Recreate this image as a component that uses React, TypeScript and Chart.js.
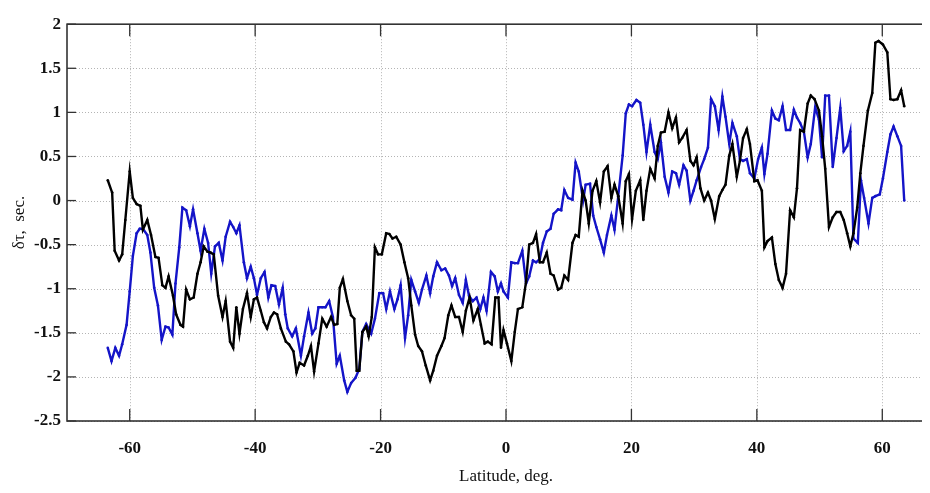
import React, { useEffect, useRef } from "react";
import { Chart, registerables } from "chart.js";

Chart.register(...registerables);

const xTicks = [-60, -40, -20, 0, 20, 40, 60];
const yTicks = [-2.5, -2, -1.5, -1, -0.5, 0, 0.5, 1, 1.5, 2];

const blackLat = [
  -63.5, -62.8, -62.4, -61.7, -61.2, -60.7, -60.0, -59.5, -58.9, -58.3, -57.9, -57.2, -56.6, -55.9, -55.4,
  -54.8, -54.3, -53.8, -53.1, -52.6, -51.9, -51.5, -51.0, -50.4, -49.8, -49.2, -48.7, -48.2, -47.6, -47.1,
  -46.6, -45.9, -45.2, -44.7, -44.0, -43.5, -43.0, -42.5, -41.95, -41.3, -40.7, -40.2, -39.7, -39.1, -38.6,
  -38.1, -37.5, -37.0, -36.5, -35.9, -35.1, -34.6, -33.9, -33.4, -32.9, -32.2, -31.6, -31.1, -30.6, -29.9,
  -29.3, -28.6, -27.9, -27.4, -26.9, -26.5, -26.0, -25.3, -24.7, -24.2, -23.8, -23.4, -22.9, -22.3, -21.9,
  -21.4, -20.9, -20.4, -19.8, -19.1, -18.6, -18.1, -17.5, -16.8, -16.2, -15.6, -15.1, -14.5, -14.0, -13.4,
  -12.8, -12.1, -11.6, -11.0, -10.3, -9.8, -9.2, -8.7, -8.1, -7.5, -6.9, -6.4, -5.8, -5.2, -4.5,
  -4.0, -3.4, -2.9, -2.3, -1.7, -1.2, -0.8, -0.4, 0.15, 0.85, 1.4, 1.9, 2.6, 3.2, 3.7,
  4.3, 4.8, 5.4, 5.9, 6.5, 7.1, 7.6, 8.3, 8.8, 9.3, 9.9, 10.6, 11.1, 11.6, 12.2,
  12.7, 13.2, 13.8, 14.4, 15.0, 15.6, 16.2, 16.8, 17.3, 17.9, 18.6, 19.1, 19.6, 20.1, 20.7,
  21.4, 21.9, 22.4, 23.0, 23.7, 24.2, 24.7, 25.3, 25.9, 26.5, 27.1, 27.6, 28.1, 28.8, 29.4,
  29.9, 30.4, 31.0, 31.6, 32.2, 32.7, 33.3, 34.0, 34.5, 35.0, 35.6, 36.1, 36.8, 37.3, 37.8,
  38.4, 38.9, 39.6, 40.1, 40.8, 41.2, 41.7, 42.4, 42.95, 43.5, 44.1, 44.65, 45.3, 45.9, 46.4,
  46.9, 47.5, 48.1, 48.6, 49.2, 49.9, 50.4, 50.9, 51.5, 52.1, 52.7, 53.3, 53.85, 54.4, 54.9,
  55.4, 56.0, 56.5, 57.0, 57.7, 58.4, 58.9, 59.4, 60.1, 60.8, 61.3, 61.8, 62.4, 63.0, 63.5,
];
const blackDelta = [
  0.23, 0.09, -0.57, -0.68, -0.61, -0.22, 0.33, 0.03, -0.04, -0.06, -0.33, -0.22, -0.39, -0.64, -0.65,
  -0.96, -0.99, -0.86, -1.08, -1.29, -1.41, -1.43, -1.01, -1.12, -1.10, -0.83, -0.70, -0.52, -0.58, -0.59,
  -0.61, -1.08, -1.32, -1.14, -1.60, -1.67, -1.21, -1.51, -1.23, -1.05, -1.32, -1.12, -1.10, -1.25, -1.38,
  -1.45, -1.32, -1.27, -1.29, -1.45, -1.60, -1.63, -1.71, -1.95, -1.84, -1.87, -1.76, -1.65, -1.94, -1.62,
  -1.34, -1.43, -1.32, -1.41, -1.40, -0.99, -0.89, -1.14, -1.30, -1.34, -1.93, -1.93, -1.49, -1.43, -1.54,
  -1.32, -0.53, -0.61, -0.61, -0.37, -0.38, -0.43, -0.41, -0.50, -0.70, -0.88, -1.19, -1.52, -1.65, -1.71,
  -1.87, -2.04, -1.93, -1.76, -1.65, -1.56, -1.30, -1.19, -1.32, -1.32, -1.49, -1.25, -1.10, -1.36, -1.23,
  -1.41, -1.62, -1.60, -1.63, -1.10, -1.10, -1.67, -1.47, -1.62, -1.82, -1.49, -1.23, -1.21, -0.92, -0.50,
  -0.48, -0.38, -0.70, -0.70, -0.59, -0.83, -0.85, -1.01, -0.99, -0.85, -0.90, -0.48, -0.39, -0.41, 0.11,
  0.00, -0.26, 0.11, 0.22, -0.02, 0.33, 0.39, 0.03, 0.18, 0.05, -0.26, 0.22, 0.30, -0.21, 0.11,
  0.23, -0.22, 0.11, 0.36, 0.25, 0.62, 0.77, 0.78, 1.00, 0.82, 0.94, 0.66, 0.71, 0.80, 0.45,
  0.40, 0.49, 0.14, 0.00, 0.09, 0.00, -0.21, 0.05, 0.12, 0.18, 0.51, 0.64, 0.27, 0.45, 0.71,
  0.81, 0.64, 0.22, 0.23, 0.11, -0.53, -0.46, -0.42, -0.72, -0.90, -0.99, -0.83, -0.11, -0.19, 0.14,
  0.80, 0.78, 1.10, 1.19, 1.15, 1.02, 0.73, 0.36, -0.30, -0.19, -0.13, -0.13, -0.22, -0.37, -0.52,
  -0.37, -0.08, 0.31, 0.62, 1.02, 1.22, 1.79, 1.81, 1.77, 1.68, 1.15, 1.14, 1.15, 1.25, 1.07,
];

const blueLat = [
  -63.5, -62.9, -62.3, -61.7, -61.2, -60.5, -60.0, -59.5, -58.9, -58.4, -57.9, -57.2, -56.7, -56.1, -55.5,
  -54.9, -54.3, -53.8, -53.2, -52.7, -52.1, -51.6, -51.0, -50.4, -49.9, -49.2, -48.7, -48.1, -47.5, -47.0,
  -46.4, -45.8, -45.2, -44.7, -44.0, -43.5, -43.0, -42.5, -41.8, -41.3, -40.7, -40.2, -39.7, -39.1, -38.5,
  -37.9, -37.4, -36.8, -36.2, -35.6, -35.2, -34.8, -34.1, -33.5, -32.7, -32.2, -31.5, -30.9, -30.4, -29.9,
  -29.3, -28.8, -28.2, -27.6, -27.0, -26.5, -25.8, -25.3, -24.7, -24.0, -23.4, -22.9, -22.3, -21.5, -20.9,
  -20.2, -19.6, -19.1, -18.5, -17.8, -17.3, -16.8, -16.1, -15.6, -15.1, -14.5, -13.9, -13.4, -12.7, -12.1,
  -11.6, -11.0, -10.3, -9.7, -9.1, -8.6, -8.1, -7.5, -6.9, -6.4, -5.9, -5.3, -4.7, -4.1, -3.6,
  -3.1, -2.4, -1.8, -1.3, -0.8, -0.4, 0.3, 0.85, 1.4, 1.9, 2.6, 3.2, 3.7, 4.3, 4.8,
  5.4, 5.9, 6.5, 7.1, 7.6, 8.3, 8.8, 9.3, 9.9, 10.6, 11.1, 11.6, 12.3, 12.7, 13.4,
  13.9, 14.4, 15.0, 15.6, 16.1, 16.8, 17.3, 17.9, 18.6, 19.1, 19.6, 20.1, 20.8, 21.4, 21.9,
  22.4, 23.0, 23.7, 24.2, 24.7, 25.3, 25.9, 26.5, 27.1, 27.6, 28.3, 28.8, 29.4, 29.9, 30.4,
  31.1, 31.6, 32.2, 32.7, 33.3, 33.9, 34.5, 35.0, 35.6, 36.1, 36.8, 37.3, 37.8, 38.4, 38.9,
  39.6, 40.2, 40.8, 41.2, 41.7, 42.4, 42.95, 43.5, 44.1, 44.65, 45.3, 45.9, 46.4, 46.9, 47.5,
  48.1, 48.6, 49.3, 49.9, 50.4, 50.9, 51.5, 52.1, 52.7, 53.3, 53.85, 54.4, 54.9, 55.4, 56.1,
  56.6, 57.1, 57.8, 58.4, 58.9, 59.6, 60.1, 60.8, 61.3, 61.8, 62.4, 63.0, 63.5,
];
const blueDelta = [
  -1.67, -1.82, -1.67, -1.76, -1.63, -1.41, -1.03, -0.63, -0.37, -0.32, -0.32, -0.39, -0.59, -0.99, -1.19,
  -1.58, -1.43, -1.44, -1.52, -0.94, -0.53, -0.08, -0.11, -0.29, -0.10, -0.37, -0.57, -0.32, -0.48, -0.83,
  -0.52, -0.48, -0.68, -0.41, -0.24, -0.30, -0.37, -0.28, -0.70, -0.88, -0.75, -0.88, -1.07, -0.88, -0.81,
  -1.10, -0.96, -0.97, -1.18, -0.99, -1.29, -1.45, -1.54, -1.45, -1.76, -1.54, -1.27, -1.51, -1.45, -1.21,
  -1.21, -1.21, -1.14, -1.32, -1.85, -1.76, -2.04, -2.17, -2.07, -2.01, -1.91, -1.49, -1.40, -1.51, -1.34,
  -1.05, -1.05, -1.23, -1.03, -1.23, -1.12, -0.96, -1.56, -1.30, -0.90, -1.03, -1.16, -1.01, -0.85, -1.05,
  -0.86, -0.70, -0.79, -0.77, -0.85, -0.97, -0.88, -1.07, -1.16, -0.90, -1.08, -1.14, -1.10, -1.23, -1.10,
  -1.25, -0.81, -0.86, -1.03, -0.94, -1.03, -1.10, -0.70, -0.71, -0.71, -0.57, -0.94, -0.86, -0.68, -0.70,
  -0.66, -0.48, -0.35, -0.32, -0.15, -0.10, -0.11, 0.12, 0.03, 0.01, 0.43, 0.33, 0.00, 0.18, 0.19,
  -0.17, -0.30, -0.44, -0.59, -0.39, -0.17, -0.33, 0.05, 0.51, 0.99, 1.09, 1.07, 1.14, 1.11, 0.86,
  0.55, 0.86, 0.55, 0.47, 0.66, 0.27, 0.09, 0.33, 0.31, 0.18, 0.40, 0.34, 0.00, 0.11, 0.23,
  0.38, 0.47, 0.60, 1.15, 1.07, 0.80, 1.18, 0.95, 0.64, 0.88, 0.73, 0.47, 0.45, 0.47, 0.31,
  0.25, 0.47, 0.60, 0.30, 0.53, 1.02, 0.93, 0.91, 1.07, 0.80, 0.80, 1.03, 0.94, 0.88, 0.78,
  0.49, 0.64, 1.06, 0.92, 0.49, 1.19, 1.19, 0.38, 0.71, 1.05, 0.56, 0.62, 0.78, -0.43, -0.48,
  0.23, 0.03, -0.26, 0.03, 0.05, 0.07, 0.25, 0.55, 0.75, 0.84, 0.73, 0.62, 0.00,
];

const FONT = "'Liberation Serif', 'Times New Roman', Times, serif";
const BLUE = "#1414c8";

export default function App() {
  const ref = useRef<HTMLCanvasElement>(null);

  useEffect(() => {
    document.documentElement.style.overflow = "hidden";
    document.body.style.overflow = "hidden";
    const canvas = ref.current;
    if (!canvas) return;

    const frame = {
      id: "frame",
      beforeDatasetsDraw(chart: any) {
        const { ctx, chartArea: a, scales } = chart;
        ctx.save();
        ctx.strokeStyle = "#b4b4b4";
        ctx.lineWidth = 1;
        ctx.setLineDash([1, 2]);
        for (const v of xTicks) {
          const px = Math.round(scales.x.getPixelForValue(v)) + 0.5;
          ctx.beginPath();
          ctx.moveTo(px, a.top);
          ctx.lineTo(px, a.bottom);
          ctx.stroke();
        }
        for (const v of yTicks) {
          const py = Math.round(scales.y.getPixelForValue(v)) + 0.5;
          ctx.beginPath();
          ctx.moveTo(a.left, py);
          ctx.lineTo(a.right, py);
          ctx.stroke();
        }
        ctx.restore();
      },
      afterDatasetsDraw(chart: any) {
        const { ctx, chartArea: a, scales } = chart;
        ctx.save();
        ctx.strokeStyle = "#333333";
        ctx.lineWidth = 1.6;
        ctx.setLineDash([]);
        ctx.strokeRect(a.left, a.top, a.right - a.left, a.bottom - a.top);
        ctx.lineWidth = 1.3;
        for (const v of xTicks) {
          const px = scales.x.getPixelForValue(v);
          ctx.beginPath();
          ctx.moveTo(px, a.bottom);
          ctx.lineTo(px, a.bottom - 12);
          ctx.moveTo(px, a.top);
          ctx.lineTo(px, a.top + 12);
          ctx.stroke();
        }
        for (const v of yTicks) {
          const py = scales.y.getPixelForValue(v);
          ctx.beginPath();
          ctx.moveTo(a.left, py);
          ctx.lineTo(a.left + 9, py);
          ctx.stroke();
        }
        ctx.restore();
      },
    };

    const chart = new Chart(canvas, {
      type: "line",
      data: {
        datasets: [
          {
            label: "black",
            data: blackLat.map((x, i) => ({ x, y: blackDelta[i] })),
            borderColor: "#000000",
            backgroundColor: "#000000",
            borderWidth: 2.4,
            pointRadius: 1.3,
            pointBorderWidth: 0,
            tension: 0,
          },
          {
            label: "blue",
            data: blueLat.map((x, i) => ({ x, y: blueDelta[i] })),
            borderColor: BLUE,
            backgroundColor: BLUE,
            borderWidth: 2.4,
            pointRadius: 1.3,
            pointBorderWidth: 0,
            tension: 0,
          },
        ],
      },
      options: {
        responsive: false,
        animation: false,
        events: [],
        layout: { padding: { top: 4, right: 8, left: 0, bottom: 0 } },
        plugins: { legend: { display: false }, tooltip: { enabled: false } },
        scales: {
          x: {
            type: "linear",
            min: -70,
            max: 70,
            afterBuildTicks: (s: any) => {
              s.ticks = xTicks.map((v) => ({ value: v }));
            },
            afterFit: (s: any) => {
              s.height = 72;
            },
            grid: { display: false, drawTicks: false },
            border: { display: false },
            ticks: {
              padding: 17,
              color: "#111111",
              maxRotation: 0,
              autoSkip: false,
              font: { family: FONT, size: 17, weight: "bold" },
              callback: (v: any) => String(v),
            },
            title: {
              display: true,
              text: "Latitude, deg.",
              color: "#111111",
              font: { family: FONT, size: 17 },
              padding: { top: 0, bottom: 6 },
            },
          },
          y: {
            type: "linear",
            min: -2.5,
            max: 2,
            afterBuildTicks: (s: any) => {
              s.ticks = yTicks.map((v) => ({ value: v }));
            },
            afterFit: (s: any) => {
              s.width = 59;
            },
            grid: { display: false, drawTicks: false },
            border: { display: false },
            ticks: {
              padding: 6,
              color: "#111111",
              autoSkip: false,
              font: { family: FONT, size: 17, weight: "bold" },
              callback: (v: any) => String(v),
            },
            title: {
              display: true,
              text: "δτ,  sec.",
              color: "#111111",
              font: { family: FONT, size: 17 },
              padding: { top: 1, bottom: 0 },
            },
          },
        },
      },
      plugins: [frame],
    });

    return () => chart.destroy();
  }, []);

  return (
    <div style={{ width: 922, height: 485, overflow: "hidden", position: "relative" }}>
      <canvas ref={ref} width={945} height={485} style={{ display: "block" }} />
    </div>
  );
}
